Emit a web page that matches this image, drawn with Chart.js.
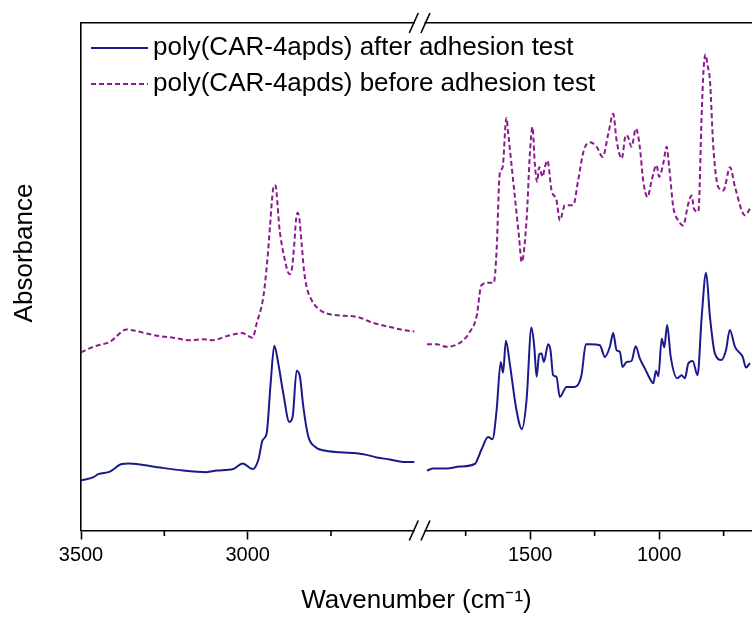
<!DOCTYPE html>
<html><head><meta charset="utf-8">
<script src="https://cdn.jsdelivr.net/npm/chart.js@4.4.0/dist/chart.umd.min.js"></script>
<style>html,body{margin:0;padding:0;background:#fff;}canvas{display:block}</style>
</head><body>
<canvas id="c" width="752" height="617"></canvas>
<script>
// ---------- data ----------
const seriesLabels = ['poly(CAR-4apds) after adhesion test', 'poly(CAR-4apds) before adhesion test'];

// "after adhesion test" – high wavenumber segment
const afterHighWn  = [3500,3483,3463,3448,3413,3378,3358,3313,3263,3193,3123,3093,3043,3015,2985,2968,2955,2943,2931,2920,2908,2893,2875,2865,2853,2843,2833,2818,2798,2773,2723,2673,2643,2613,2573,2533,2500];
const afterHighAbs = [9.9,10.1,10.5,11.1,11.6,13.1,13.2,12.9,12.4,11.8,11.5,11.8,12.1,13.2,12.1,13.9,17.8,19.1,29.0,36.4,32.9,27.0,21.4,22.4,31.5,30.3,24.4,18.5,16.5,15.8,15.4,15.2,14.9,14.4,14.0,13.5,13.5];
// "after adhesion test" – fingerprint segment
const afterLowWn  = [1900,1876,1824,1773,1715,1689,1663,1646,1630,1614,1605,1594,1579,1553,1532,1514,1495,1484,1475,1465,1456,1447,1430,1421,1411,1398,1385,1359,1327,1301,1284,1268,1230,1210,1191,1178,1165,1152,1142,1126,1107,1091,1075,1055,1029,1023,1012,1003,990,980,969,955,930,913,900,887,870,851,835,818,803,784,758,741,726,706,676,663,648];
const afterLowAbs = [11.8,12.2,12.2,12.6,13.1,15.9,18.4,18.0,23.7,33.2,31.1,37.4,32.9,23.7,20.0,25.7,40.0,36.2,30.3,34.7,34.9,33.2,36.7,35.5,30.6,30.3,26.3,28.3,28.3,30.6,36.7,36.7,36.5,34.2,36.2,38.9,35.5,35.2,32.2,33.2,33.4,36.3,33.9,31.9,29.3,29.0,31.5,30.4,37.8,36.1,40.5,34.2,30.0,30.6,30.0,32.9,33.4,30.6,42.1,50.8,42.1,34.9,33.6,35.5,39.5,36.2,34.2,32.1,33.0];

// "before adhesion test" – high wavenumber segment
const beforeHighWn  = [3500,3463,3413,3363,3333,3303,3263,3223,3173,3133,3103,3063,3018,2985,2973,2953,2941,2933,2927,2921,2916,2913,2905,2898,2888,2881,2875,2868,2860,2855,2850,2845,2838,2831,2823,2808,2788,2753,2673,2623,2573,2533,2500];
const beforeHighAbs = [35.1,36.2,37.2,39.6,39.3,38.8,38.3,38.0,37.5,37.7,37.5,38.3,38.9,38.0,40.8,46.0,53.2,59.8,65.1,68.0,68.0,66.4,59.8,56.5,53.2,51.3,50.5,51.3,56.5,61.1,62.6,61.5,56.5,51.3,48.0,45.4,43.7,42.6,42.1,40.9,40.1,39.5,39.2];
// "before adhesion test" – fingerprint segment
const beforeLowWn  = [1900,1863,1824,1766,1734,1708,1689,1663,1641,1630,1618,1607,1592,1585,1566,1543,1533,1514,1501,1491,1482,1473,1465,1452,1443,1433,1417,1398,1385,1365,1333,1314,1292,1268,1242,1219,1197,1178,1165,1145,1129,1120,1107,1090,1075,1062,1045,1029,1010,1000,984,971,961,945,926,907,887,874,865,848,835,828,820,812,803,790,771,751,725,706,667,648];
const beforeLowAbs = [36.7,36.7,36.2,37.2,39.1,42.1,48.3,48.8,48.8,55.2,70.3,71.5,81.3,78.2,69.0,57.8,52.9,61.1,74.3,79.5,72.3,68.7,71.6,69.7,71.6,72.9,67.0,65.1,61.1,64.1,64.1,69.0,74.9,76.5,75.6,73.6,78.2,82.1,76.9,73.3,77.9,77.5,75.6,79.2,75.6,69.0,65.7,69.0,72.0,69.7,72.3,75.6,71.6,63.7,61.1,60.1,64.4,66.0,63.4,62.8,82.1,90.6,93.8,91.6,88.7,75.6,67.7,67.0,71.6,67.7,62.1,63.4];

// axis ticks
const xTickValues  = [3500,3250,3000,2750,1750,1500,1250,1000,750];
const xTickLabeled = [3500,3000,1500,1000];

// ---------- layout / style ----------
const FONT = "'Liberation Sans', Arial, sans-serif";
const X_SEGMENTS = [
  {from: 3500, to: 2500, start: 0, end: 0.4967},
  {from: 1900, to: 640, start: 0.5156, end: 1}
];
const COLORS = ['#1a1a8c', '#8a1a8f'];

function pts(wn, ab) { return wn.map((w, i) => ({x: w, y: ab[i]})); }
function joined(hWn, hAb, lWn, lAb) {
  return [...pts(hWn, hAb), {x: 2200, y: null}, ...pts(lWn, lAb)];
}

// ---------- broken linear axis ----------
class BrokenLinearScale extends Chart.LinearScale {
  determineDataLimits() {
    const v = X_SEGMENTS.flatMap(s => [s.from, s.to]);
    this.min = Math.min(...v); this.max = Math.max(...v);
  }
  buildTicks() { return xTickValues.map(v => ({value: v})); }
  getPixelForValue(value) {
    for (const s of X_SEGMENTS) {
      const lo = Math.min(s.from, s.to), hi = Math.max(s.from, s.to);
      if (value >= lo && value <= hi) {
        const t = (value - s.from) / (s.to - s.from);
        return this.getPixelForDecimal(s.start + t * (s.end - s.start));
      }
    }
    let d = Infinity, f = 0;
    for (const s of X_SEGMENTS) {
      if (Math.abs(value - s.from) < d) { d = Math.abs(value - s.from); f = s.start; }
      if (Math.abs(value - s.to) < d) { d = Math.abs(value - s.to); f = s.end; }
    }
    return this.getPixelForDecimal(f);
  }
  getValueForPixel(pixel) {
    const dec = this.getDecimalForPixel(pixel);
    for (const s of X_SEGMENTS) {
      if (dec >= s.start && dec <= s.end) {
        return s.from + (dec - s.start) / (s.end - s.start) * (s.to - s.from);
      }
    }
    return NaN;
  }
}
BrokenLinearScale.id = 'brokenLinear';
BrokenLinearScale.defaults = Chart.LinearScale.defaults;
Chart.register(BrokenLinearScale);

// ---------- decorations: minor ticks, axis breaks, legend, y title ----------
const decor = {
  id: 'decor',
  afterDraw(chart) {
    const {ctx, chartArea: a} = chart;
    const x = chart.scales.x;
    ctx.save();
    ctx.strokeStyle = '#000';
    ctx.lineWidth = 1.6;
    // minor ticks
    x.ticks.forEach((t, i) => {
      if (xTickLabeled.includes(t.value)) return;
      const px = x.getPixelForTick(i);
      ctx.beginPath(); ctx.moveTo(px, a.bottom); ctx.lineTo(px, a.bottom + 5.5); ctx.stroke();
    });
    // axis breaks
    const p1 = x.getPixelForValue(X_SEGMENTS[0].to) - 0.5;
    const p2 = x.getPixelForValue(X_SEGMENTS[1].from) - 1.5;
    [a.top, a.bottom].forEach(yy => {
      ctx.fillStyle = '#fff';
      ctx.fillRect(p1 + 1, yy - 2.5, p2 - p1 - 2, 5);
      ctx.beginPath();
      [p1, p2].forEach(px => { ctx.moveTo(px - 4.5, yy + 10); ctx.lineTo(px + 4.5, yy - 10); });
      ctx.stroke();
    });
    // legend
    ctx.font = '26px ' + FONT;
    ctx.textBaseline = 'middle';
    ctx.textAlign = 'left';
    chart.data.datasets.forEach((ds, i) => {
      const y = 48 + i * 36;
      ctx.strokeStyle = ds.borderColor;
      ctx.lineWidth = ds.borderWidth;
      ctx.setLineDash(ds.borderDash || []);
      ctx.beginPath(); ctx.moveTo(a.left + 10, y); ctx.lineTo(a.left + 67, y); ctx.stroke();
      ctx.setLineDash([]);
      ctx.fillStyle = '#000';
      ctx.fillText(ds.label, a.left + 72, y);
    });
    // y axis title
    ctx.translate(25, 253);
    ctx.rotate(-Math.PI / 2);
    ctx.textAlign = 'center';
    ctx.fillStyle = '#000';
    ctx.fillText('Absorbance', 0, 0);
    ctx.restore();
  }
};

new Chart(document.getElementById('c'), {
  type: 'line',
  data: {
    datasets: [
      {
        label: seriesLabels[0],
        data: joined(afterHighWn, afterHighAbs, afterLowWn, afterLowAbs),
        borderColor: COLORS[0], borderWidth: 2, pointRadius: 0,
        cubicInterpolationMode: 'monotone', xAxisID: 'x', yAxisID: 'y', spanGaps: false
      },
      {
        label: seriesLabels[1],
        data: joined(beforeHighWn, beforeHighAbs, beforeLowWn, beforeLowAbs),
        borderColor: COLORS[1], borderWidth: 2, borderDash: [5, 3], pointRadius: 0,
        cubicInterpolationMode: 'monotone', xAxisID: 'x', yAxisID: 'y', spanGaps: false
      }
    ]
  },
  options: {
    responsive: false,
    animation: false,
    devicePixelRatio: 1,
    layout: {padding: 0},
    plugins: {legend: {display: false}, tooltip: {enabled: false}},
    scales: {
      x: {
        type: 'brokenLinear',
        position: 'bottom',
        afterFit: s => { s.height = 86.5; },
        grid: {
          display: true, drawOnChartArea: false, drawTicks: true, tickLength: 9,
          tickWidth: 1.6,
          tickColor: c => (c.tick && xTickLabeled.includes(c.tick.value)) ? '#000' : 'rgba(0,0,0,0)'
        },
        border: {display: true, color: '#000', width: 1.6},
        ticks: {
          autoSkip: false, maxRotation: 0, minRotation: 0, padding: 4,
          color: '#000', font: {family: FONT, size: 20},
          callback: v => xTickLabeled.includes(v) ? String(v) : ''
        },
        title: {
          display: true, text: 'Wavenumber (cm⁻¹)', color: '#000',
          font: {family: FONT, size: 26}, padding: {top: 0, bottom: 1}
        }
      },
      xTop: {
        type: 'linear', position: 'top', min: 0, max: 1,
        afterFit: s => { s.height = 23; },
        grid: {display: false},
        ticks: {display: false},
        border: {display: true, color: '#000', width: 1.6}
      },
      y: {
        type: 'linear', position: 'left', min: 0, max: 100,
        afterFit: s => { s.width = 81; },
        grid: {display: false},
        ticks: {display: false},
        border: {display: true, color: '#000', width: 1.6}
      }
    }
  },
  plugins: [decor]
});
</script>
</body></html>
